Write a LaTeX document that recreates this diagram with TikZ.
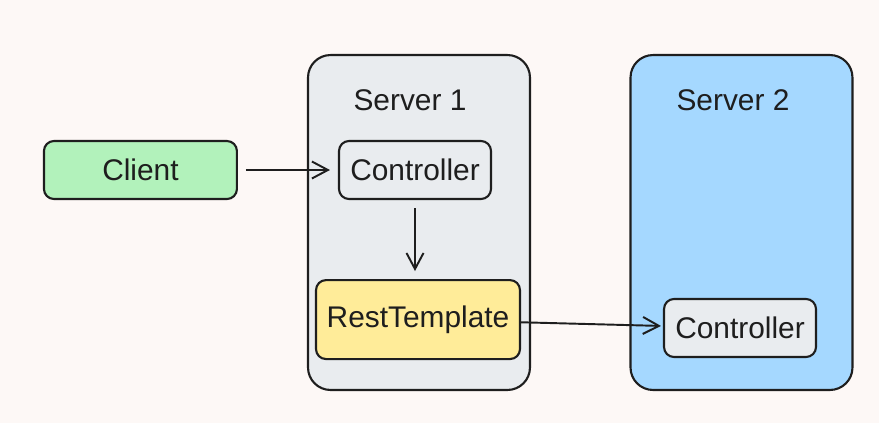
\documentclass[tikz,border=0pt]{standalone}
\usepackage{fontspec}
\setmainfont{Liberation Sans}
\usetikzlibrary{positioning,arrows.meta}
\definecolor{paper}{HTML}{FDF8F6}
\definecolor{ink}{HTML}{1E1E1E}
\definecolor{mint}{HTML}{B2F2BB}
\definecolor{mist}{HTML}{E9ECEF}
\definecolor{butter}{HTML}{FFEC99}
\definecolor{sky}{HTML}{A5D8FF}

\begin{document}
\begin{tikzpicture}[x=0.02cm,y=-0.02cm,
			label/.style={font=\fontsize{17}{20}\selectfont,text=ink},
			box/.style={label,draw=ink,line width=1.2pt,rounded corners=0.2cm,minimum width=3.04cm,minimum height=1.16cm,inner sep=0pt},
			server/.style={draw=ink,line width=1.2pt,rounded corners=0.45cm,minimum width=4.44cm,minimum height=6.7cm},
			flow/.style={draw=ink,line width=1.1pt,-{Straight Barb[length=0.32cm,width=0.34cm]},shorten <=0.16cm,shorten >=0.16cm}]
			\fill[paper] (0,0) rectangle (879,423);

			\node[server,fill=mist]                  (srvone) at (419,222.5) {};
			\node[server,fill=sky]                   (srvtwo) at (741.5,222.5) {};
			\node[label]                             (srvonelbl) at (410,100) {Server 1};
			\node[label]                             (srvtwolbl) at (733,100) {Server 2};

			\node[box,fill=mist]                     (ctrl) at (415,170) {Controller};
			\node[box,fill=mint,minimum width=3.86cm,left=2cm of ctrl] (client) {Client};
			\node[box,fill=butter,minimum width=4.08cm,minimum height=1.58cm,below=1.58cm of ctrl,xshift=0.06cm] (rest) {RestTemplate};
			\node[box,fill=mist]                     (ctrltwo) at (740,328) {Controller};

			\draw[flow] (client) -- (ctrl);
			\draw[flow] (ctrl) -- (ctrl |- rest.north);
			\draw[flow,shorten <=0pt,shorten >=0.04cm] (rest) -- (ctrltwo);
		\end{tikzpicture}
\end{document}
